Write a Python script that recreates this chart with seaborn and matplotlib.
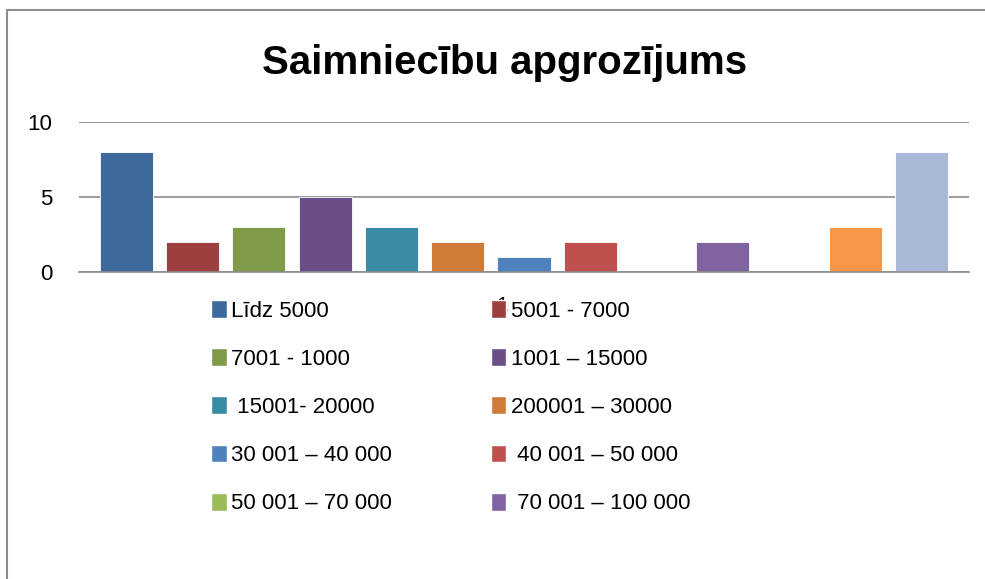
import matplotlib
matplotlib.use("Agg")
import matplotlib.pyplot as plt
from matplotlib.lines import Line2D
from matplotlib.patches import Patch
from matplotlib.transforms import ScaledTranslation
import seaborn as sns
import pandas as pd

series = ["Līdz 5000", "5001 - 7000", "7001 - 1000", "1001 – 15000",
          " 15001- 20000", "200001 – 30000", "30 001 – 40 000", " 40 001 – 50 000",
          "50 001 – 70 000", " 70 001 – 100 000", "100 001 – 150 000",
          "150 001 – 200 000", "virs 200 000"]
values = [8, 2, 3, 5, 3, 2, 1, 2, 0, 2, 0, 3, 8]
colors = ["#3E6A9B", "#9D3F3E", "#7F9A48", "#6A4F87", "#3A8BA4", "#CE7B38",
          "#4F81BD", "#C0504D", "#9BBB59", "#8064A2", "#4BACC6", "#F79646", "#AAB9D7"]
category = ["1"]
shown_in_legend = 10

df = pd.DataFrame({"cat": category * len(series), "series": series, "value": values})

sns.set_style("white")
plt.rcParams["font.family"] = ["Liberation Sans", "DejaVu Sans"]
plt.rcParams["text.color"] = "black"
plt.rcParams["ytick.color"] = "black"
plt.rcParams["xtick.color"] = "black"

fig = plt.figure(figsize=(9.85, 5.79), dpi=100)
ax = fig.add_axes([79/985, 1-272/579, (969-79)/985, 150/579])

sns.barplot(data=df, x="cat", y="value", hue="series", hue_order=series,
            palette=dict(zip(series, colors)), saturation=1, width=0.968, gap=0.2,
            legend=False, ax=ax, edgecolor="white", linewidth=0.6)

ax.set_xlim(-0.5, 0.5)
ax.set_ylim(0, 10)
ax.set_yticks([0, 5, 10])
ax.yaxis.grid(True, color="#8C8C8C", linewidth=1.2)
ax.set_axisbelow(True)
for s in ["top", "right", "left"]:
    ax.spines[s].set_visible(False)
ax.spines["bottom"].set_color("#8C8C8C")
ax.spines["bottom"].set_linewidth(1.2)
ax.tick_params(axis="y", length=0, labelsize=16, pad=19, labelcolor="black")
ax.tick_params(axis="x", length=0, labelsize=15, pad=17, labelcolor="black")
ax.set_xlabel("")
ax.set_ylabel("")
offset = ScaledTranslation(-22/100, 0, fig.dpi_scale_trans)
for lbl in ax.get_xticklabels():
    lbl.set_transform(lbl.get_transform() + offset)
    lbl.set_zorder(1)

fig.text(0.512, 1-63/579, "Saimniecību apgrozījums", ha="center", va="center",
         fontsize=29, fontweight="bold", color="black")

handles = [Patch(facecolor=c, edgecolor="white") for c in colors[:shown_in_legend]]
labels = series[:shown_in_legend]
order = [0, 2, 4, 6, 8, 1, 3, 5, 7, 9]
leg = fig.legend([handles[i] for i in order], [labels[i] for i in order], ncol=2,
                 loc="upper left", bbox_to_anchor=(211/985, 1-300/579),
                 frameon=False, fontsize=16, handlelength=0.7, handleheight=0.85,
                 handletextpad=0.2, labelspacing=1.2, columnspacing=4.45,
                 borderpad=0, borderaxespad=0)
for t in leg.get_texts():
    t.set_color("black")
leg.set_zorder(10)

fig.add_artist(Line2D([7/985, 1], [1-10/579, 1-10/579], color="#8C8C8C", linewidth=1.5))
fig.add_artist(Line2D([7/985, 7/985], [0, 1-10/579], color="#8C8C8C", linewidth=1.5))

fig.savefig("out.png", dpi=100)
